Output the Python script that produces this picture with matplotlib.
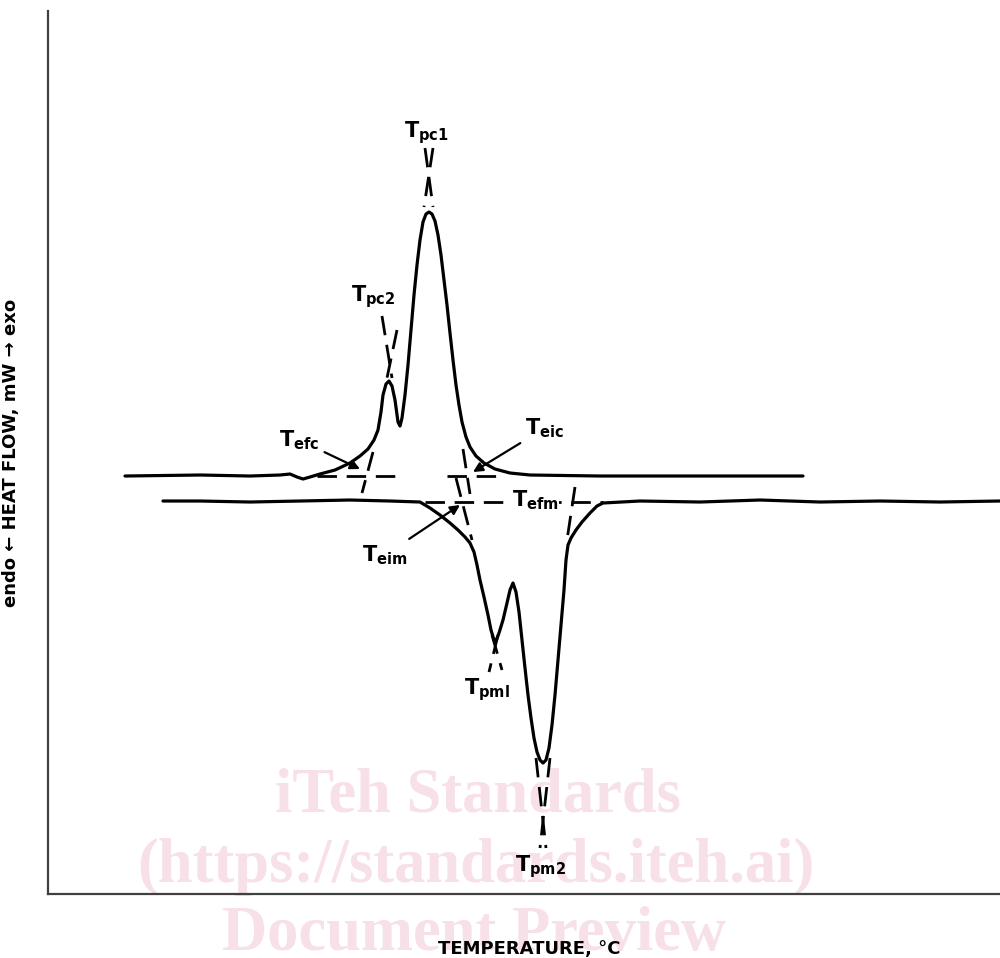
import matplotlib
matplotlib.use("Agg")
import numpy as np
import matplotlib.pyplot as plt

plt.rcParams['font.family'] = ['DejaVu Sans']
plt.rcParams['mathtext.fontset'] = 'dejavusans'

# schematic DSC trace, arbitrary units
# cooling run (upper curve, exotherm)
cool_t = [125, 200, 250, 280, 290, 297, 303, 310, 320, 335, 350, 360, 368, 374,
          378, 381, 383, 386, 389, 392, 395, 398, 400, 402, 405, 408, 411, 414,
          417, 420, 423, 426, 429, 432, 435, 438, 441, 444, 447, 450, 453, 456,
          459, 462, 466, 470, 476, 484, 495, 510, 530, 600, 700, 803]
cool_h = [418, 419, 418, 419, 420, 417, 415, 417, 420, 424, 431, 438, 445, 454,
          464, 482, 499, 510, 513, 508, 494, 472, 468, 476, 499, 529, 564, 599,
          629, 654, 672, 680, 682, 680, 673, 659, 639, 614, 589, 561, 534, 509,
          489, 472, 457, 447, 438, 431, 425, 421, 419, 418, 418, 418]

# heating run (lower curve, endotherm)
heat_t = [163, 200, 250, 300, 350, 390, 420, 430, 440, 450, 458, 465, 470, 474,
          477, 480, 484, 488, 491, 494, 496, 499, 503, 507, 510, 513, 516, 519,
          522, 525, 528, 531, 534, 537, 540, 543, 546, 549, 552, 555, 558, 561,
          564, 566, 568, 571, 576, 582, 590, 597, 603, 640, 700, 760, 820, 880,
          940, 1000]
heat_h = [393, 393, 392, 393, 394, 393, 392, 386, 379, 371, 364, 357, 351, 342,
          329, 314, 297, 279, 264, 254, 253, 261, 274, 291, 304, 311, 302, 282,
          254, 226, 199, 176, 156, 142, 134, 131, 134, 146, 169, 199, 234, 269,
          304, 334, 349, 356, 364, 372, 381, 388, 391, 393, 392, 394, 392, 393,
          392, 393]

# construction lines (baseline extensions and tangents): t0, h0, t1, h1
guide_lines = [
    (317, 418, 397, 418),
    (447, 418, 497, 418),
    (373, 442, 362, 401),
    (463, 445, 470, 400),
    (425, 746, 433, 687),
    (433, 746, 424, 687),
    (382, 578, 392, 516),
    (397, 564, 387, 516),
    (425, 392, 603, 392),
    (456, 416, 472, 354),
    (575, 407, 567, 354),
    (492, 259, 502, 224),
    (498, 259, 489, 222),
    (536, 136, 546, 46),
    (550, 136, 540, 46),
]

# labels: text, label position, arrow tip (or None)
labels = [
    (r'$\mathbf{T}_{\mathbf{pc1}}$', (426, 761), None),
    (r'$\mathbf{T}_{\mathbf{pc2}}$', (373, 597), None),
    (r'$\mathbf{T}_{\mathbf{efc}}$', (299, 454), (360, 425)),
    (r'$\mathbf{T}_{\mathbf{eic}}$', (545, 466), (473, 422)),
    (r'$\mathbf{T}_{\mathbf{efm}}$', (535, 394), None),
    (r'$\mathbf{T}_{\mathbf{eim}}$', (385, 339), (460, 389)),
    (r'$\mathbf{T}_{\mathbf{pml}}$', (487, 204), None),
    (r'$\mathbf{T}_{\mathbf{pm2}}$', (541, 27), None),
]

fig = plt.figure(figsize=(10, 9.58), dpi=100)
ax = fig.add_axes([0.048, 0.0668, 0.952, 0.9217])

# watermark
wm = '#f8e0e8'
for txt, xf, yf in [('iTeh Standards', 0.478, 1 - 812 / 958),
                    ('(https://standards.iteh.ai)', 0.476, 1 - 882 / 958),
                    ('Document Preview', 0.474, 1 - 950 / 958)]:
    ax.text(xf, yf, txt, transform=fig.transFigure, ha='center', va='baseline',
            fontsize=45, fontweight='bold', family='Liberation Serif',
            color=wm, zorder=0, clip_on=False)

ax.plot(cool_t, cool_h, color='black', lw=2.3, solid_joinstyle='round',
        solid_capstyle='round', zorder=3)
ax.plot(heat_t, heat_h, color='black', lw=2.3, solid_joinstyle='round',
        solid_capstyle='round', zorder=3)

for t0, h0, t1, h1 in guide_lines:
    ax.plot([t0, t1], [h0, h1], color='black', lw=2.0,
            linestyle=(0, (7, 3.5)), dash_capstyle='butt', zorder=3)

for txt, pos, tip in labels:
    if tip is None:
        # only the label sitting on the dashed baseline needs a knock-out
        bb = None
        if 'efm' in txt:
            bb = dict(facecolor='white', edgecolor='none', pad=0.5)
        ax.text(pos[0], pos[1], txt, ha='center', va='center', fontsize=15,
                zorder=4, bbox=bb)
    else:
        ax.annotate(txt, xy=tip, xytext=pos, ha='center', va='center',
                    fontsize=15, zorder=4,
                    arrowprops=dict(arrowstyle='-|>', color='black', lw=1.6,
                                    mutation_scale=14, shrinkA=2, shrinkB=0))

ax.set_xlim(48, 1000)
ax.set_ylim(0, 883)
ax.set_xticks([])
ax.set_yticks([])
for s in ['top', 'right']:
    ax.spines[s].set_visible(False)
for s in ['left', 'bottom']:
    ax.spines[s].set_color('#404040')
    ax.spines[s].set_linewidth(1.6)

ax.set_xlabel('TEMPERATURE, °C', fontsize=13, fontweight='bold')
ax.xaxis.set_label_coords(0.506, -0.052)
ax.set_ylabel('endo ← HEAT FLOW, mW → exo', fontsize=13, fontweight='bold')
ax.yaxis.set_label_coords(-0.0294, 0.5)

fig.savefig('out.png', dpi=100)
